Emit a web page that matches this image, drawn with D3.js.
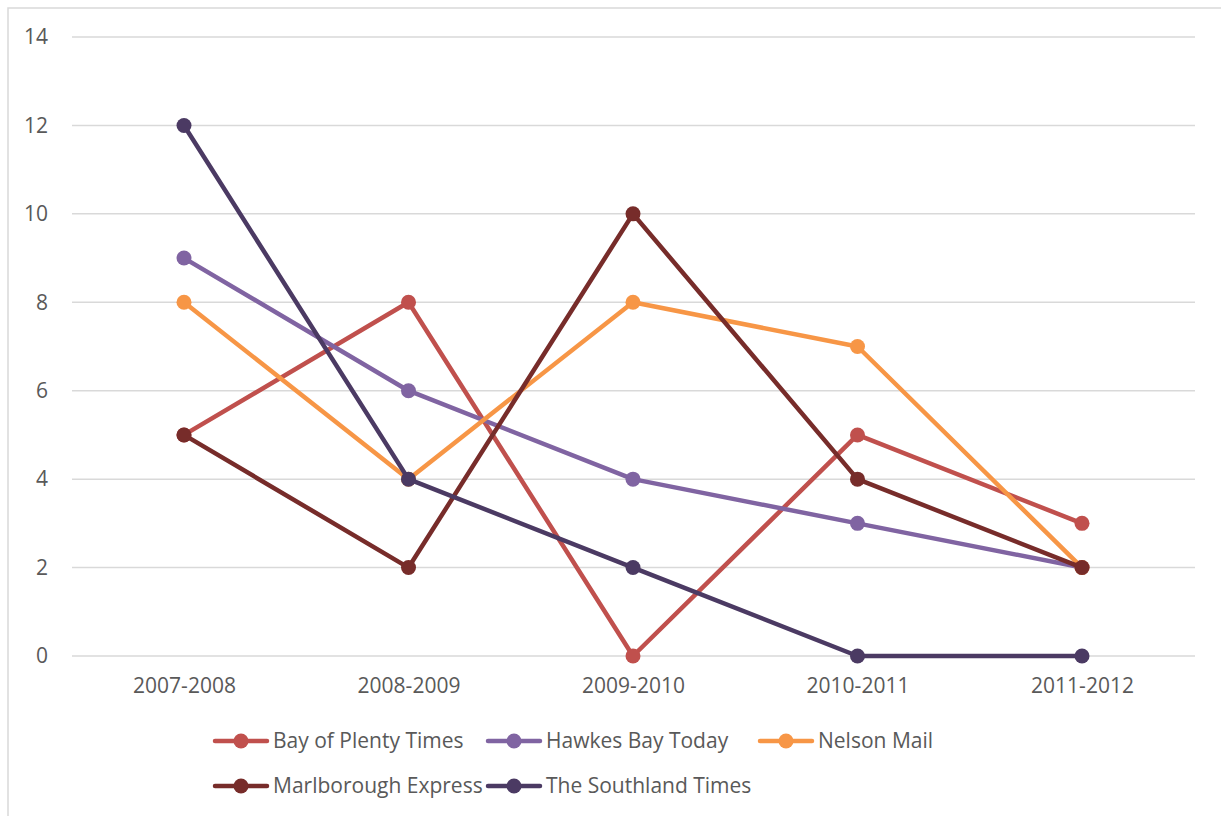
<!DOCTYPE html>
<html><head><meta charset="utf-8">
<script src="https://cdn.jsdelivr.net/npm/d3@7"></script>
<style>body{margin:0;background:#fff}svg{display:block}</style>
</head><body>
<script>
const categories = ["2007-2008","2008-2009","2009-2010","2010-2011","2011-2012"];
const seriesNames = ["Bay of Plenty Times","Hawkes Bay Today","Nelson Mail","Marlborough Express","The Southland Times"];
const bayOfPlenty = [5,8,0,5,3];
const hawkesBay = [9,6,4,3,2];
const nelsonMail = [8,4,8,7,2];
const marlborough = [5,2,10,4,2];
const southland = [12,4,2,0,0];
const yTicks = [0,2,4,6,8,10,12,14];
const colors = ["#c0504d","#8064a2","#f79646","#772c2a","#4b3a63"];
const seriesValues = [bayOfPlenty,hawkesBay,nelsonMail,marlborough,southland];

const W=1221,H=816;
const svg=d3.select("body").append("svg").attr("width",W).attr("height",H);
svg.append("rect").attr("x",8).attr("y",8).attr("width",W).attr("height",H)
  .attr("fill","#fff").attr("stroke","#d9d9d9").attr("stroke-width",1.5);

const x=d3.scalePoint().domain(categories).range([184,1082]);
const y=d3.scaleLinear().domain([0,14]).range([656,37]);
const font="'Open Sans', 'Liberation Sans', sans-serif";

const grid=svg.append("g");
grid.selectAll("line").data(yTicks).join("line")
  .attr("x1",72).attr("x2",1195).attr("y1",d=>y(d)).attr("y2",d=>y(d))
  .attr("stroke","#d9d9d9").attr("stroke-width",1.5);

const yAxis=d3.axisLeft(y).tickValues(yTicks).tickSize(0).tickPadding(0);
const ga=svg.append("g").attr("transform","translate(48,0)").call(yAxis);
ga.select(".domain").remove();
ga.selectAll("text").attr("font-family",font).attr("font-size",21).attr("fill","#595959");

const xAxis=d3.axisBottom(x).tickSize(0).tickPadding(0);
const gx=svg.append("g").attr("transform","translate(0,678)").call(xAxis);
gx.select(".domain").remove();
gx.selectAll("text").attr("font-family",font).attr("font-size",21).attr("fill","#595959");

const line=d3.line().x((d,i)=>x(categories[i])).y(d=>y(d));
seriesValues.forEach((vals,si)=>{
  const g=svg.append("g");
  g.append("path").attr("d",line(vals)).attr("fill","none")
    .attr("stroke",colors[si]).attr("stroke-width",4.5).attr("stroke-linejoin","round").attr("stroke-linecap","round");
  g.selectAll("circle").data(vals).join("circle")
    .attr("cx",(d,i)=>x(categories[i])).attr("cy",d=>y(d)).attr("r",7.5).attr("fill",colors[si]);
});

const legendPos=[[215,741],[488,741],[760,741],[215,786],[488,786]];
seriesNames.forEach((name,i)=>{
  const [lx,ly]=legendPos[i];
  const g=svg.append("g");
  g.append("line").attr("x1",lx).attr("x2",lx+52).attr("y1",ly).attr("y2",ly)
    .attr("stroke",colors[i]).attr("stroke-width",4.5).attr("stroke-linecap","round");
  g.append("circle").attr("cx",lx+26).attr("cy",ly).attr("r",7.5).attr("fill",colors[i]);
  g.append("text").attr("x",lx+58).attr("y",ly).attr("dy","0.35em")
    .attr("font-family",font).attr("font-size",21).attr("fill","#595959").text(name);
});
</script>
</body></html>
